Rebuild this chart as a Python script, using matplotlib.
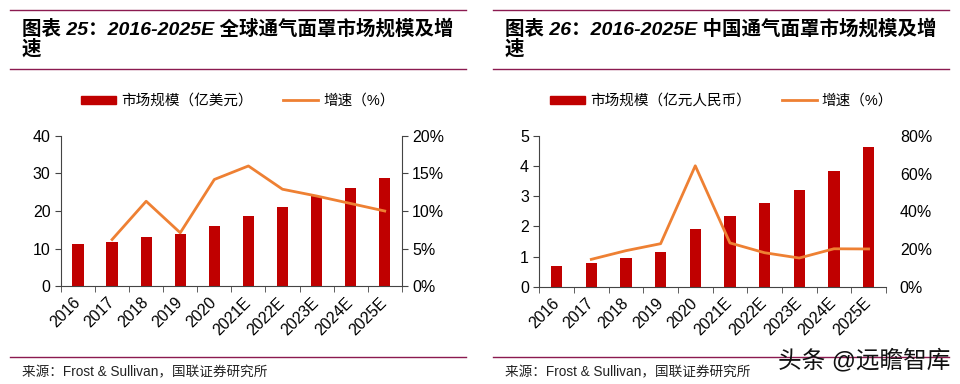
import matplotlib
matplotlib.use("Agg")
import matplotlib.pyplot as plt
from matplotlib.lines import Line2D
from matplotlib.patches import Patch
import numpy as np

plt.rcParams['font.family'] = ['Liberation Sans', 'Noto Sans CJK SC', 'DejaVu Sans']

# data
years = ['2016', '2017', '2018', '2019', '2020', '2021E', '2022E', '2023E', '2024E', '2025E']

global_size = [11.1, 11.7, 13.1, 14.0, 16.0, 18.6, 21.0, 23.9, 26.1, 28.8]   # 亿美元
global_growth = [None, 6.2, 11.3, 7.1, 14.2, 16.0, 12.9, 12.0, 11.0, 10.0]   # %

china_size = [0.70, 0.78, 0.96, 1.16, 1.91, 2.35, 2.78, 3.19, 3.84, 4.62]     # 亿元人民币
china_growth = [None, 14.5, 19.1, 22.8, 64.1, 23.2, 18.0, 15.2, 20.1, 20.0]  # %

titles = ['图表 25：2016-2025E 全球通气面罩市场规模及增\n速',
          '图表 26：2016-2025E 中国通气面罩市场规模及增\n速']
bar_labels = ['市场规模（亿美元）', '市场规模（亿元人民币）']
line_label = '增速（%）'
source = '来源：Frost & Sullivan，国联证券研究所'

bar_color = '#C00000'
line_color = '#EE8033'
rule_color = '#8B1A50'

fig = plt.figure(figsize=(9.6, 3.84), dpi=100)


def panel(rect, size, growth, ylim, yticks, y2lim, y2ticks, show_right_spine):
    ax = fig.add_axes(rect)
    x = np.arange(len(years))
    ax.bar(x, size, width=0.33, color=bar_color, zorder=2)
    ax.set_xlim(-0.5, len(years) - 0.5)
    ax.set_ylim(*ylim)
    ax.set_yticks(yticks)
    ax.set_xticks(x)
    ax.set_xticklabels(years, rotation=45, ha='right', va='center', rotation_mode='anchor', fontsize=11.5)
    ax.tick_params(axis='x', length=0, pad=10)
    ax.set_xticks(np.arange(-0.5, len(years)), minor=True)
    ax.tick_params(axis='x', which='minor', length=4, direction='out', color='#444444')
    ax.tick_params(axis='y', length=4, direction='out', labelsize=11.5, color='#444444')
    for s in ['top', 'right']:
        ax.spines[s].set_visible(False)
    ax.spines['left'].set_color('#444444')
    ax.spines['bottom'].set_color('#444444')

    ax2 = ax.twinx()
    gx = [i for i, g in enumerate(growth) if g is not None]
    gy = [g for g in growth if g is not None]
    ax2.plot(gx, gy, color=line_color, lw=2, zorder=3)
    ax2.set_ylim(*y2lim)
    ax2.set_yticks(y2ticks)
    ax2.set_yticklabels([f'{t}%' for t in y2ticks])
    for s in ['top', 'left', 'bottom']:
        ax2.spines[s].set_visible(False)
    if show_right_spine:
        ax2.spines['right'].set_color('#444444')
        ax2.tick_params(axis='y', length=4, direction='out', labelsize=11.5, color='#444444')
    else:
        ax2.spines['right'].set_visible(False)
        ax2.tick_params(axis='y', length=0, pad=10, labelsize=11.5)
    return ax, ax2


panel([0.0635, 0.255, 0.355, 0.391], global_size, global_growth,
      (0, 40), [0, 10, 20, 30, 40], (0, 20), [0, 5, 10, 15, 20], True)
panel([0.5618, 0.2534, 0.361, 0.393], china_size, china_growth,
      (0, 5), [0, 1, 2, 3, 4, 5], (0, 80), [0, 20, 40, 60, 80], False)

# titles, rules, legends, source
for k, x0 in enumerate([0.0104, 0.514]):
    x1 = x0 + 0.475
    fig.add_artist(Line2D([x0, x1], [1 - 10 / 384, 1 - 10 / 384], color=rule_color, lw=1))
    fig.add_artist(Line2D([x0, x1], [1 - 69 / 384, 1 - 69 / 384], color=rule_color, lw=1))
    fig.add_artist(Line2D([x0, x1], [1 - 357 / 384, 1 - 357 / 384], color=rule_color, lw=1))
    fig.text(x0 + 0.012, 1 - 39 / 384, titles[k], fontsize=14, fontweight='bold', style='italic',
             va='center', ha='left', linespacing=1.05)
    fig.text(x0 + 0.012, 1 - 372 / 384, source, fontsize=9.8, va='center', ha='left', color='#222222')

    handles = [Patch(color=bar_color), Line2D([0], [0], color=line_color, lw=2)]
    fig.legend(handles, [bar_labels[k], line_label], loc='center',
               bbox_to_anchor=(x0 + 0.2375, 1 - 101 / 384), ncol=2, frameon=False,
               fontsize=10.5, handlelength=2.4, handleheight=0.5, columnspacing=2.1, handletextpad=0.35)

fig.text(0.99, 1 - 361 / 384, '头条 @远瞻智库', fontsize=17, ha='right', va='center', color='#111111')

fig.savefig('out.png', dpi=100)
